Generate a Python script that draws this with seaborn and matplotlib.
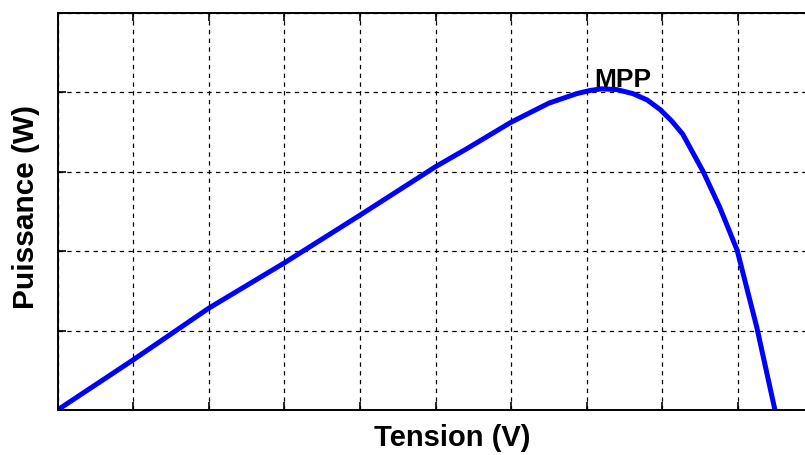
import numpy as np
import pandas as pd
import matplotlib
matplotlib.use("Agg")
import matplotlib.pyplot as plt
import seaborn as sns

# === DATA ===
tension = [0, 1, 2, 3, 4, 5, 5.42, 6, 6.5, 6.87, 7.05, 7.2, 7.4, 7.61, 7.8, 7.97, 8.12, 8.27,
           8.54, 8.76, 8.99, 9.25, 9.49]
puissance = [0, 0.63, 1.28, 1.85, 2.45, 3.06, 3.29, 3.62, 3.86, 3.98, 4.02, 4.04, 4.03, 3.98,
             3.9, 3.78, 3.64, 3.47, 3.0, 2.55, 2.01, 1.04, 0]
mpp_x = 7.48
mpp_y = 4.0

sns.set_style("white")
plt.rcParams["font.family"] = ["Liberation Sans", "DejaVu Sans"]
plt.rcParams["text.color"] = "black"

df = pd.DataFrame({"tension": tension, "puissance": puissance})

fig = plt.figure(figsize=(8.05, 4.55), dpi=100)
ax = fig.add_axes([57.5 / 805, 45 / 455, 756 / 805, 397.5 / 455])

sns.lineplot(data=df, x="tension", y="puissance", color="#0000ff", linewidth=3.6,
             sort=False, ax=ax)

ax.set_xlim(0, 10)
ax.set_ylim(0, 5)
ax.set_xticks(np.arange(0, 11, 1))
ax.set_yticks(np.arange(0, 6, 1))
ax.set_xticklabels([])
ax.set_yticklabels([])
ax.tick_params(direction="in", length=6, width=1.2, color="black",
               top=True, right=True, bottom=True, left=True)
ax.grid(True, color="black", linestyle=(0, (3.5, 3.5)), linewidth=0.9)
for s in ax.spines.values():
    s.set_color("black")
    s.set_linewidth(1.4)

ax.text(mpp_x, mpp_y, "MPP", ha="center", va="bottom", fontsize=19, fontweight="bold",
        color="black")

ax.set_xlabel("")
ax.set_ylabel("")
fig.text(452 / 805, 1 - 438 / 455, "Tension (V)", ha="center", va="center",
         fontsize=21, fontweight="bold", color="black")
fig.text(26 / 805, 1 - 207 / 455, "Puissance (W)", ha="center", va="center",
         rotation=90, fontsize=21.5, fontweight="bold", color="black")

plt.savefig("out.png", dpi=100)
plt.close()
